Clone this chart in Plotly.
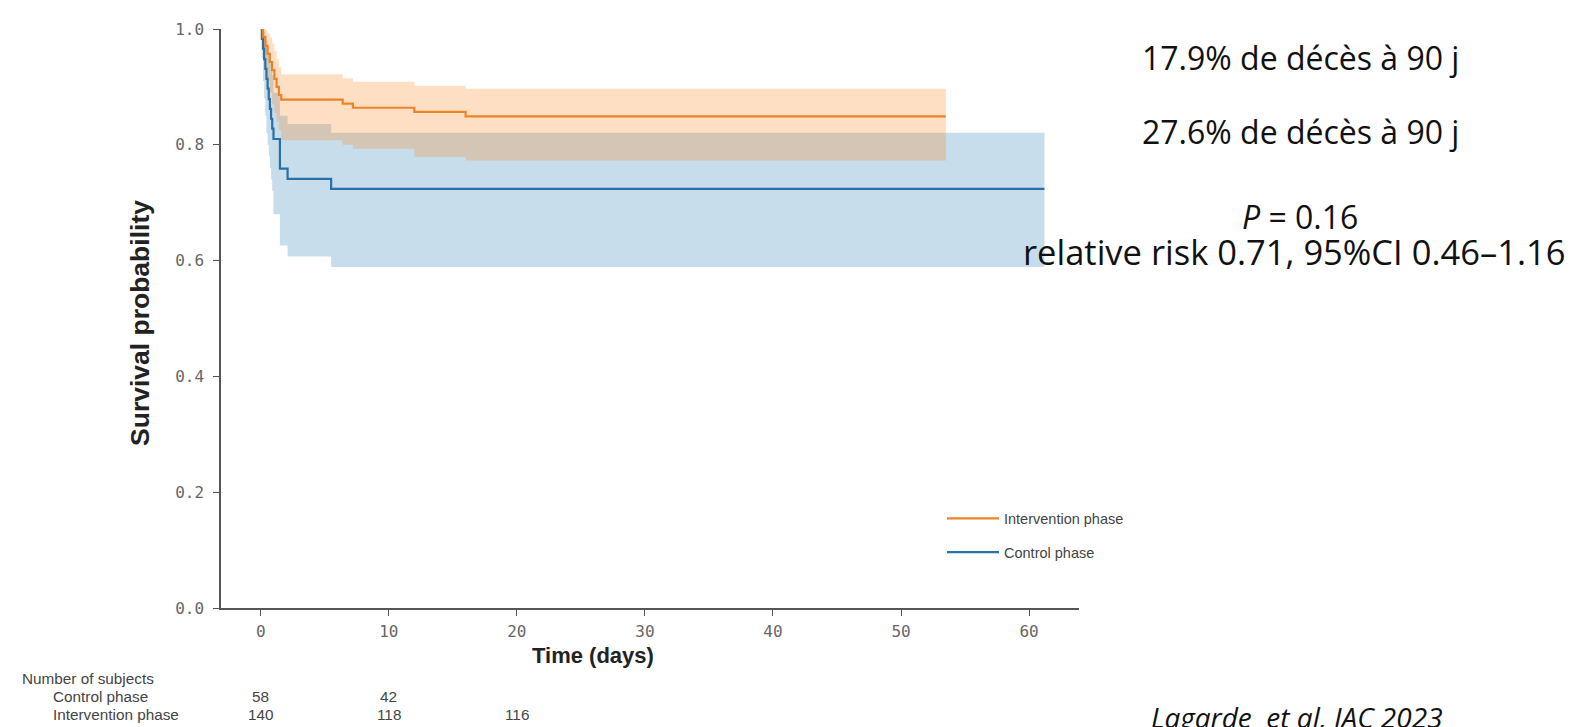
import plotly.graph_objects as go

# ---- Kaplan-Meier estimates ----
ctrl_days  = [0, 0.09, 0.18, 0.27, 0.36, 0.45, 0.54, 0.63, 0.72, 0.81, 0.9, 1.0, 1.5, 2.1, 5.5, 61.2]
ctrl_surv  = [1.0, 0.983, 0.966, 0.948, 0.931, 0.914, 0.897, 0.879, 0.862, 0.845, 0.828, 0.810, 0.759, 0.741, 0.724, 0.724]
ctrl_upper = [1.0, 1.0, 1.0, 0.995, 0.99, 0.98, 0.97, 0.96, 0.95, 0.935, 0.92, 0.89, 0.85, 0.836, 0.821, 0.821]
ctrl_lower = [1.0, 0.95, 0.91, 0.88, 0.85, 0.82, 0.80, 0.78, 0.76, 0.74, 0.72, 0.68, 0.626, 0.607, 0.589, 0.589]

int_days  = [0, 0.18, 0.36, 0.53, 0.71, 0.89, 1.07, 1.24, 1.42, 1.6, 6.4, 7.2, 12.0, 16.0, 53.5]
int_surv  = [1.0, 0.986, 0.971, 0.957, 0.943, 0.929, 0.914, 0.900, 0.886, 0.878, 0.871, 0.864, 0.857, 0.849, 0.849]
int_upper = [1.0, 1.0, 0.998, 0.993, 0.985, 0.975, 0.962, 0.948, 0.935, 0.922, 0.915, 0.909, 0.902, 0.897, 0.897]
int_lower = [1.0, 0.955, 0.93, 0.91, 0.89, 0.87, 0.855, 0.84, 0.825, 0.808, 0.80, 0.793, 0.779, 0.773, 0.773]

x_ticks = [0, 10, 20, 30, 40, 50, 60]
y_ticks = [0.0, 0.2, 0.4, 0.6, 0.8, 1.0]

at_risk_days = [0, 10, 20]
at_risk_control = [58, 42, None]
at_risk_intervention = [140, 118, 116]

series_names = ["Intervention phase", "Control phase"]

right_texts = [
    "17.9% de décès à 90 j",
    "27.6% de décès à 90 j",
    "<i>P</i> = 0.16",
    "relative risk 0.71, 95%CI 0.46–1.16",
]
citation = "<i>Lagarde  et al, JAC 2023</i>"

# ---- layout geometry (pixels) ----
W, H = 1580, 727
L, R, T, B = 213, 1071, 19, 600
PW, PH = R - L, B - T


def px(x):
    return (x - L) / PW


def py(y):
    return (B - y) / PH


BLUE = "#2a6fa5"
ORANGE = "#ec8427"
BLUE_FILL = "rgba(31,119,180,0.25)"
ORANGE_FILL = "rgba(255,127,14,0.25)"

fig = go.Figure()

# confidence bands
for days, up, lo, fillc in [
    (ctrl_days, ctrl_upper, ctrl_lower, BLUE_FILL),
    (int_days, int_upper, int_lower, ORANGE_FILL),
]:
    fig.add_trace(go.Scatter(x=days, y=up, mode="lines", line=dict(width=0, shape="hv"),
                             showlegend=False, hoverinfo="skip"))
    fig.add_trace(go.Scatter(x=days, y=lo, mode="lines", line=dict(width=0, shape="hv"),
                             fill="tonexty", fillcolor=fillc, showlegend=False, hoverinfo="skip"))

# survival curves
fig.add_trace(go.Scatter(x=ctrl_days, y=ctrl_surv, mode="lines", name=series_names[1],
                         line=dict(color=BLUE, width=2.2, shape="hv"),
                         legendgroup="c", legendrank=2))
fig.add_trace(go.Scatter(x=int_days, y=int_surv, mode="lines", name=series_names[0],
                         line=dict(color=ORANGE, width=2.2, shape="hv"),
                         legendgroup="i", legendrank=1))

tick_font = dict(family="DejaVu Sans Mono, DejaVu Sans", size=16, color="#666")

fig.update_layout(
    width=W, height=H, autosize=False,
    margin=dict(l=L, r=W - R, t=T, b=H - B, pad=0),
    plot_bgcolor="white", paper_bgcolor="white",
    showlegend=True,
    legend=dict(x=px(934), y=py(494), xanchor="left", yanchor="top",
                font=dict(family="Liberation Sans, Arial", size=14.5, color="#444"),
                itemwidth=52, tracegroupgap=12, bgcolor="rgba(0,0,0,0)",
                traceorder="grouped"),
    xaxis=dict(range=[-3.1, 63.9], tickvals=x_ticks, ticks="outside", ticklen=6,
               tickcolor="#555", tickwidth=1.3, showline=True, linecolor="#555", linewidth=1.5,
               showgrid=False, zeroline=False, tickfont=tick_font, ticklabelstandoff=2),
    yaxis=dict(range=[0, 1], tickvals=y_ticks, tickformat=".1f", ticks="outside", ticklen=6,
               tickcolor="#555", tickwidth=1.3, showline=True, linecolor="#555", linewidth=1.5,
               showgrid=False, zeroline=False, tickfont=tick_font, ticklabelstandoff=6),
)

ann = []
# axis titles
ann.append(dict(text="<b>Survival probability</b>", x=px(132), y=py(314), xref="paper", yref="paper",
                textangle=-90, showarrow=False, xanchor="center", yanchor="middle",
                font=dict(family="Liberation Sans, Arial", size=26.5, color="#222")))
ann.append(dict(text="<b>Time (days)</b>", x=px(585), y=py(648), xref="paper", yref="paper",
                showarrow=False, xanchor="center", yanchor="middle",
                font=dict(family="Liberation Sans, Arial", size=22, color="#222")))

# number at risk table
tbl_font = dict(family="Liberation Sans, Arial", size=15.3, color="#444")
ann.append(dict(text="Number of subjects", x=px(12), y=py(671), xref="paper", yref="paper",
                showarrow=False, xanchor="left", yanchor="middle", font=tbl_font))
row_y = [689, 707]
for label, counts, yy in [("Control phase", at_risk_control, row_y[0]),
                          ("Intervention phase", at_risk_intervention, row_y[1])]:
    ann.append(dict(text=label, x=px(43), y=py(yy), xref="paper", yref="paper",
                    showarrow=False, xanchor="left", yanchor="middle", font=tbl_font))
    for d, c in zip(at_risk_days, counts):
        if c is None:
            continue
        ann.append(dict(text=str(c), x=d, y=py(yy), xref="x", yref="paper",
                        showarrow=False, xanchor="center", yanchor="middle", font=tbl_font))

# right-hand text: (x centre, y centre, font size, box height)
rt_family = "Open Sans, Lato"
rt_specs = [(1292, 48, 32, None), (1292, 122, 32, None), (1292, 207, 32, 34), (1286, 242, 34.5, 37)]
for t, (xx, yy, sz, hh) in zip(right_texts, rt_specs):
    a = dict(text=t, x=px(xx), y=py(yy), xref="paper", yref="paper",
             showarrow=False, xanchor="center", yanchor="middle",
             font=dict(family=rt_family, size=sz, color="#111"))
    if hh is not None:
        a["height"] = hh
    ann.append(a)
ann.append(dict(text=citation, x=px(1289), y=py(709), xref="paper", yref="paper",
                showarrow=False, xanchor="center", yanchor="middle",
                font=dict(family=rt_family, size=28, color="#111")))

fig.update_layout(annotations=ann)

fig.write_html("out.html")
